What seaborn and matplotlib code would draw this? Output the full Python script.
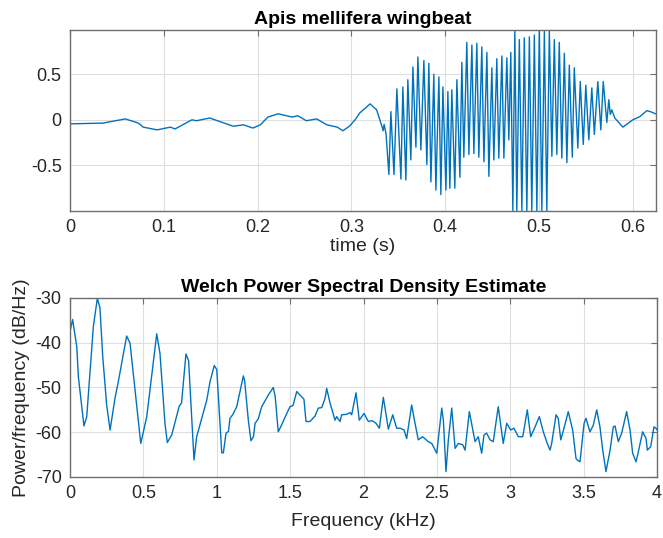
import matplotlib
matplotlib.use("Agg")
import matplotlib.pyplot as plt
import pandas as pd
import seaborn as sns

# ---- wingbeat recording: time (s) and amplitude at the turning points of the trace ----
wave_t = [
    0.000, 0.035, 0.059, 0.073, 0.078, 0.093, 0.107, 0.112, 0.130, 0.135,
    0.149, 0.174, 0.185, 0.195, 0.203, 0.211, 0.222, 0.237, 0.243, 0.252,
    0.263, 0.274, 0.285, 0.291, 0.298, 0.304, 0.309, 0.320, 0.327, 0.332,
    0.334, 0.335, 0.337,
    0.3401, 0.3422, 0.3455, 0.3486, 0.3529, 0.3550, 0.3582, 0.3603, 0.3635, 0.3657,
    0.3689, 0.3710, 0.3742, 0.3774, 0.3806, 0.3827, 0.3849, 0.3880, 0.3902, 0.3934,
    0.3955, 0.3977, 0.4009, 0.4030, 0.4051, 0.4072, 0.4104, 0.4126, 0.4158, 0.4179,
    0.4200, 0.4232, 0.4254, 0.4286, 0.4307, 0.4339, 0.4360, 0.4392, 0.4414, 0.4446,
    0.4467, 0.4499, 0.4520, 0.4552, 0.4573, 0.4606, 0.4627, 0.4659, 0.4680, 0.4701,
    0.4723, 0.4744, 0.4765, 0.4792, 0.4819, 0.4845, 0.4872, 0.4899, 0.4925, 0.4952,
    0.4979, 0.5005, 0.5032, 0.5059, 0.5085, 0.5112, 0.5139, 0.5165, 0.5192, 0.5218,
    0.5245, 0.5272, 0.5299, 0.5325, 0.5357, 0.5378, 0.5416, 0.5442, 0.5474, 0.5501,
    0.5533, 0.5565, 0.5592, 0.5629, 0.5661, 0.5687, 0.5725, 0.5746, 0.5762, 0.5778,
    0.5810, 0.5896, 0.6002, 0.6077, 0.6151, 0.6190, 0.6247,
]
wave_v = [
    -0.044, -0.036, 0.010, -0.036, -0.080, -0.110, -0.080, -0.100, 0.000, -0.010,
    0.020, -0.070, -0.055, -0.090, -0.055, 0.030, 0.066, 0.030, 0.045, -0.010,
    0.010, -0.055, -0.080, -0.120, -0.070, 0.000, 0.075, 0.175, 0.110, -0.050,
    -0.120, -0.050, -0.150,
    -0.60, 0.09, -0.60, 0.34, -0.65, 0.36, -0.66, 0.44, -0.44, 0.58,
    -0.30, 0.69, -0.33, 0.65, -0.49, 0.62, -0.68, 0.50, -0.77, 0.47,
    -0.82, 0.36, -0.77, 0.31, -0.75, 0.33, -0.75, 0.44, -0.63, 0.63,
    -0.41, 0.85, -0.38, 0.82, -0.37, 0.84, -0.41, 0.80, -0.46, 0.74,
    -0.62, 0.57, -0.44, 0.67, -0.42, 0.70, -0.42, 0.68, -0.22, 0.74,
    -1.00, 0.99, -1.00, 0.88, -1.00, 0.90, -1.00, 0.91, -1.00, 0.93,
    -1.00, 0.99, -1.00, 0.97, -1.00, 0.97, -0.40, 0.88, -0.38, 0.85,
    -0.42, 0.73, -0.47, 0.60, -0.41, 0.57, -0.31, 0.42, -0.27, 0.38,
    -0.22, 0.35, -0.16, 0.42, -0.11, 0.42, -0.03, 0.22, 0.06, 0.11,
    0.02, -0.08, 0.00, 0.035, 0.10, 0.09, 0.065,
]

# ---- Welch PSD: frequency (kHz) and power/frequency (dB/Hz) ----
psd_f = [
    0.000, 0.018, 0.046, 0.057, 0.080, 0.095, 0.114, 0.159, 0.186, 0.204,
    0.223, 0.250, 0.273, 0.307, 0.329, 0.386, 0.409, 0.443, 0.482, 0.523,
    0.591, 0.613, 0.647, 0.663, 0.693, 0.745, 0.760, 0.790, 0.808, 0.836,
    0.845, 0.863, 0.932, 0.954, 0.983, 1.000, 1.022, 1.034, 1.045, 1.063,
    1.080, 1.090, 1.110, 1.136, 1.181, 1.190, 1.215, 1.233, 1.250, 1.261,
    1.283, 1.306, 1.351, 1.385, 1.398, 1.419, 1.440, 1.477, 1.499, 1.520,
    1.545, 1.567, 1.594, 1.608, 1.635, 1.669, 1.692, 1.715, 1.738, 1.749,
    1.772, 1.806, 1.817, 1.840, 1.851, 1.885, 1.908, 1.919, 1.949, 1.971,
    2.003, 2.033, 2.058, 2.085, 2.108, 2.135, 2.169, 2.199, 2.226, 2.249,
    2.276, 2.294, 2.328, 2.351, 2.373, 2.403, 2.441, 2.465, 2.499, 2.533,
    2.544, 2.562, 2.578, 2.601, 2.624, 2.646, 2.676, 2.692, 2.721, 2.744,
    2.760, 2.782, 2.805, 2.821, 2.839, 2.862, 2.884, 2.918, 2.952, 2.976,
    3.003, 3.025, 3.055, 3.085, 3.116, 3.139, 3.169, 3.198, 3.225, 3.252,
    3.271, 3.282, 3.312, 3.327, 3.344, 3.366, 3.395, 3.425, 3.448, 3.457,
    3.475, 3.503, 3.516, 3.543, 3.566, 3.589, 3.611, 3.630, 3.652, 3.680,
    3.702, 3.714, 3.736, 3.759, 3.793, 3.816, 3.834, 3.857, 3.873, 3.902,
    3.925, 3.934, 3.957, 3.979, 3.993, 4.000,
]
psd_db = [
    -37.5, -34.8, -40.9, -47.6, -54.3, -58.6, -56.5, -36.4, -30.1, -32.2,
    -43.1, -54.0, -59.5, -52.3, -48.7, -38.5, -40.1, -50.6, -62.5, -56.5,
    -38.0, -42.4, -58.0, -62.3, -60.6, -54.1, -53.5, -42.5, -44.0, -61.0,
    -66.2, -61.0, -52.8, -48.7, -45.1, -46.0, -58.0, -64.6, -64.6, -60.2,
    -59.8, -56.9, -56.0, -54.3, -47.4, -48.5, -57.3, -61.9, -61.0, -58.0,
    -57.0, -54.3, -51.7, -50.0, -52.0, -59.9, -58.5, -55.8, -54.3, -54.0,
    -50.9, -51.7, -52.6, -57.6, -57.6, -56.4, -54.6, -54.5, -52.4, -50.2,
    -53.5, -57.3, -56.5, -57.6, -56.1, -56.0, -55.6, -56.1, -51.2, -57.3,
    -55.8, -57.6, -57.4, -58.0, -59.1, -52.2, -59.3, -56.1, -59.1, -59.1,
    -59.5, -61.4, -53.9, -58.0, -61.7, -61.0, -62.1, -62.5, -64.7, -54.6,
    -57.3, -68.8, -61.7, -54.6, -63.6, -62.5, -62.8, -64.0, -55.4, -59.3,
    -62.1, -61.0, -64.7, -60.6, -60.2, -61.7, -62.1, -54.3, -62.5, -58.0,
    -59.5, -59.1, -61.0, -61.0, -55.0, -61.0, -58.8, -56.5, -59.9, -62.5,
    -64.0, -62.5, -56.1, -56.9, -61.7, -59.1, -55.4, -59.5, -65.9, -66.2,
    -66.6, -58.0, -56.9, -59.9, -58.4, -55.0, -58.8, -64.0, -68.8, -64.0,
    -58.8, -58.6, -62.1, -60.2, -55.4, -59.5, -64.7, -66.6, -64.3, -59.9,
    -61.4, -64.0, -63.2, -58.8, -59.1, -59.5,
]

time_ticks = [0, 0.1, 0.2, 0.3, 0.4, 0.5, 0.6]
time_labels = ["0", "0.1", "0.2", "0.3", "0.4", "0.5", "0.6"]
amp_ticks = [-0.5, 0, 0.5]
amp_labels = ["-0.5", "0", "0.5"]
freq_ticks = [0, 0.5, 1, 1.5, 2, 2.5, 3, 3.5, 4]
freq_labels = ["0", "0.5", "1", "1.5", "2", "2.5", "3", "3.5", "4"]
db_ticks = [-70, -60, -50, -40, -30]
db_labels = ["-70", "-60", "-50", "-40", "-30"]

wave = pd.DataFrame({"t": wave_t, "v": wave_v})
psd = pd.DataFrame({"f": psd_f, "db": psd_db})

sns.set_theme(style="white")
plt.rcParams["font.family"] = ["Liberation Sans", "DejaVu Sans"]

LINE = "#0072BD"
TXT = "#262626"
FRAME = "#6e6e6e"
GRID = "#dedede"

fig = plt.figure(figsize=(6.63, 5.38), dpi=100)
ax1 = fig.add_axes([0.1056, 0.6078, 0.8839, 0.3364])
ax2 = fig.add_axes([0.1056, 0.1134, 0.8854, 0.3327])


def style(ax):
    ax.set_facecolor("white")
    for s in ax.spines.values():
        s.set_color(FRAME)
        s.set_linewidth(1.0)
    ax.grid(True, color=GRID, linewidth=0.8)
    ax.set_axisbelow(True)
    ax.tick_params(direction="in", length=4, width=0.8, color=FRAME,
                   top=True, right=True, labelsize=13, labelcolor=TXT, pad=6)


sns.lineplot(data=wave, x="t", y="v", ax=ax1, color=LINE, linewidth=1.0,
             sort=False, estimator=None)
ax1.set_xlim(0, 0.625)
ax1.set_ylim(-1.0, 0.985)
ax1.set_xticks(time_ticks, time_labels)
ax1.set_yticks(amp_ticks, amp_labels)
ax1.set_xlabel("time (s)", fontsize=14, color=TXT, labelpad=1)
ax1.set_ylabel("")
ax1.set_title("Apis mellifera wingbeat", fontsize=14, fontweight="bold",
              color="black", pad=4)
style(ax1)

sns.lineplot(data=psd, x="f", y="db", ax=ax2, color=LINE, linewidth=1.0,
             sort=False, estimator=None)
ax2.set_xlim(0, 4)
ax2.set_ylim(-70, -30)
ax2.set_xticks(freq_ticks, freq_labels)
ax2.set_yticks(db_ticks, db_labels)
ax2.set_xlabel("Frequency (kHz)", fontsize=14, color=TXT, labelpad=8)
ax2.set_ylabel("Power/frequency (dB/Hz)", fontsize=14, color=TXT, labelpad=4)
ax2.set_title("Welch Power Spectral Density Estimate", fontsize=14,
              fontweight="bold", color="black", pad=4)
style(ax2)

fig.savefig("out.png", dpi=100, facecolor="white")
